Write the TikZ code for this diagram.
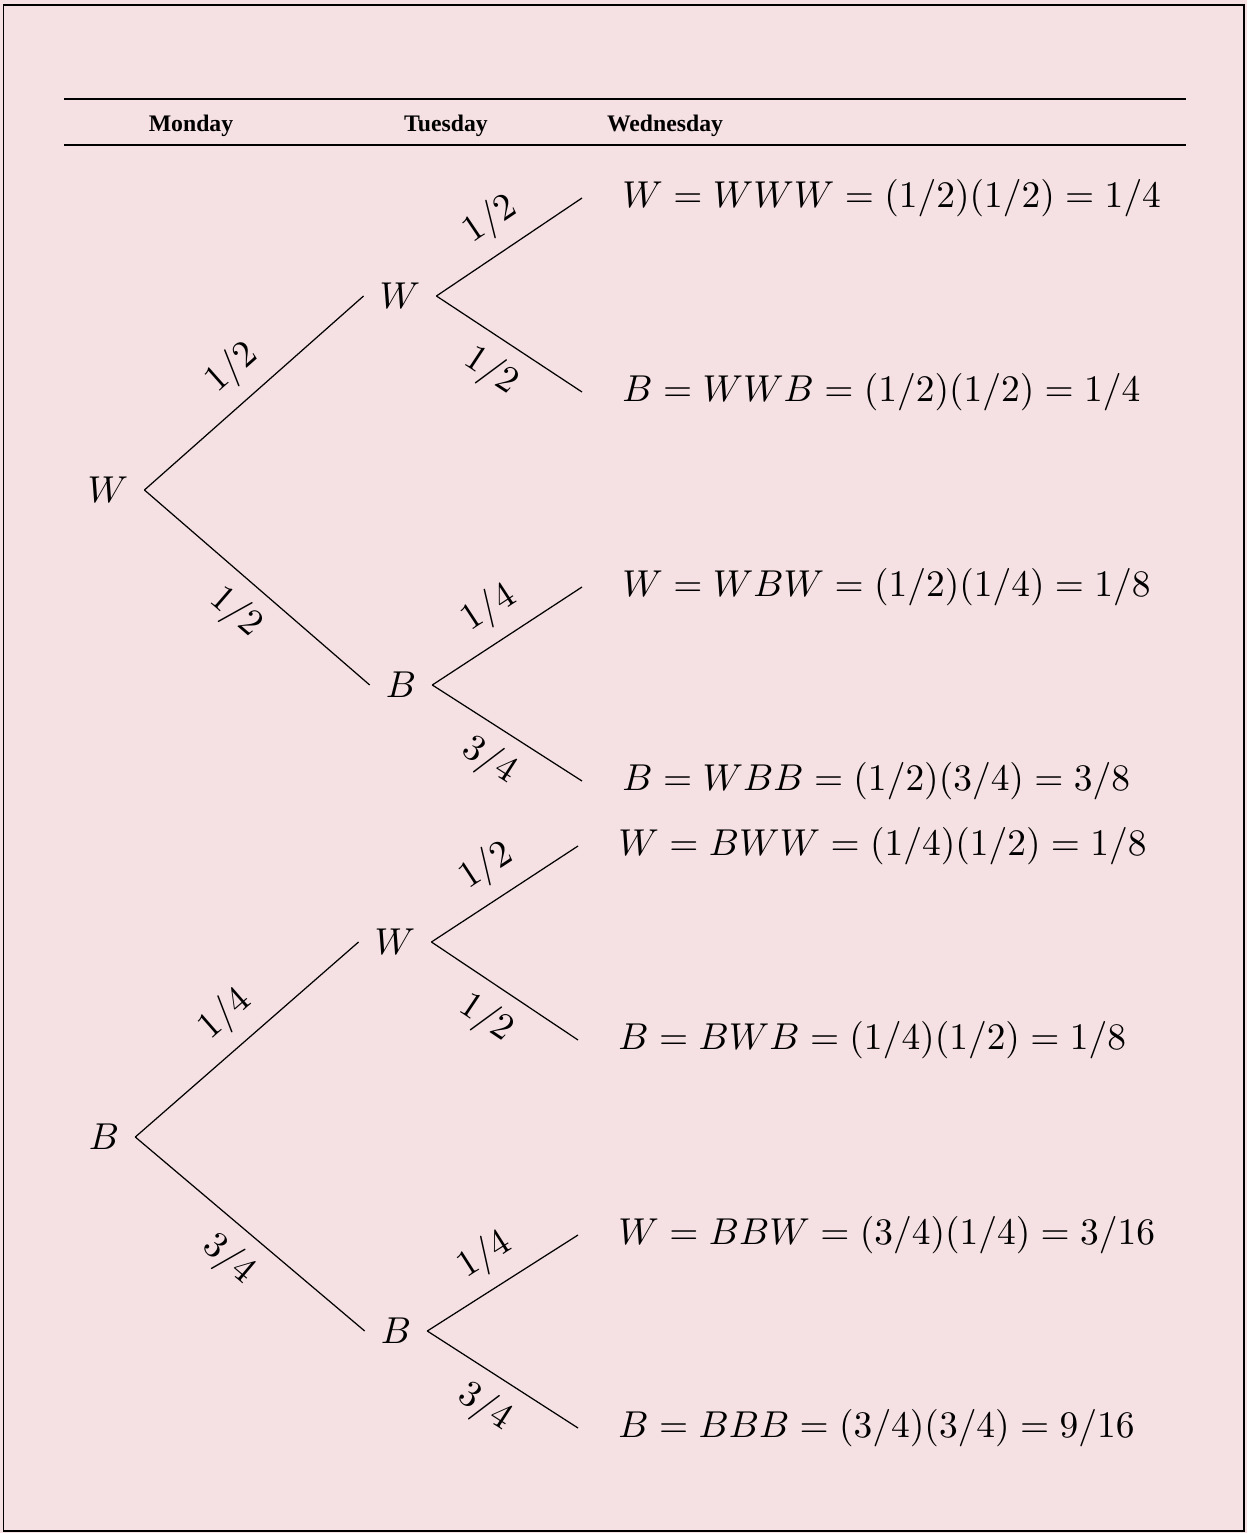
\documentclass[tikz,border=0pt]{standalone}
\usepackage[no-math]{fontspec}
\newfontfamily\headfont{Liberation Serif}
\usetikzlibrary{positioning}
\definecolor{bgpink}{RGB}{245,224,227}
% 10pt の数式を拡大して使う
\newcommand{\mth}[1]{\scalebox{2.13}{$#1$}}

\begin{document}
\begin{tikzpicture}[
      % 分岐点（W / B）のスタイル
      state/.style={inner xsep=9pt, inner ysep=2pt},
      % 末端の結果のスタイル
      leaf/.style={anchor=west, inner xsep=0.8cm, inner ysep=2pt},
      % 枝のスタイル
      branch/.style={draw, line width=0.7pt},
      % 確率ラベル
      prob/.style={sloped, inner sep=3.3pt},
      % 見出し
      head/.style={font=\headfont\bfseries\fontsize{13.5}{16}\selectfont}
    ]

    % --- 背景と枠 ---
    \useasboundingbox (0,0) rectangle (24.94,-30.66);
    \fill [bgpink] (0,0) rectangle (24.94,-30.66);
    \draw [line width=0.9pt] (0.07,-0.1) rectangle (24.88,-30.62);

    % --- 見出し：曜日 ---
    \draw [line width=1.4pt] (1.28,-1.98) -- (23.72,-1.98);
    \draw [line width=1.4pt] (1.28,-2.90) -- (23.72,-2.90);
    \node [head] (mon) at (3.82,-2.52) {Monday};
    \node [head] (tue) at (8.92,-2.52) {Tuesday};
    \node [head] (wed) at (13.30,-2.52) {Wednesday};

    % --- 上側：月曜 W ---
    \node [state] (w) at (2.16,-9.80) {\mth{W}};
    \node [state] (ww) at (8.00,-5.92) {\mth{W}};
    \node [state] (wb) at (8.02,-13.70) {\mth{B}};
    \node [leaf] (www) at (11.64,-3.96) {\mth{W = WWW = (1/2)(1/2) = 1/4}};
    \node [leaf] (wwb) at (11.64,-7.84) {\mth{B = WWB = (1/2)(1/2) = 1/4}};
    \node [leaf] (wbw) at (11.64,-11.74) {\mth{W = WBW = (1/2)(1/4) = 1/8}};
    \node [leaf] (wbb) at (11.64,-15.62) {\mth{B = WBB = (1/2)(3/4) = 3/8}};

    \draw [branch] (w.east) -- node[prob, above=4.5pt] {\mth{1/2}} (ww.west);
    \draw [branch] (w.east) -- node[prob, below=4.5pt] {\mth{1/2}} (wb.west);
    \draw [branch] (ww.east) -- node[prob, above=4.5pt] {\mth{1/2}} (www.west);
    \draw [branch] (ww.east) -- node[prob, below=4.5pt] {\mth{1/2}} (wwb.west);
    \draw [branch] (wb.east) -- node[prob, above=4.5pt] {\mth{1/4}} (wbw.west);
    \draw [branch] (wb.east) -- node[prob, below=4.5pt] {\mth{3/4}} (wbb.west);

    % --- 下側：月曜 B ---
    \node [state] (b) at (2.08,-22.74) {\mth{B}};
    \node [state] (bw) at (7.90,-18.84) {\mth{W}};
    \node [state] (bb) at (7.92,-26.62) {\mth{B}};
    \node [leaf] (bww) at (11.56,-16.92) {\mth{W = BWW = (1/4)(1/2) = 1/8}};
    \node [leaf] (bwb) at (11.56,-20.80) {\mth{B = BWB = (1/4)(1/2) = 1/8}};
    \node [leaf] (bbw) at (11.56,-24.70) {\mth{W = BBW = (3/4)(1/4) = 3/16}};
    \node [leaf] (bbb) at (11.56,-28.56) {\mth{B = BBB = (3/4)(3/4) = 9/16}};

    \draw [branch] (b.east) -- node[prob, above=4.5pt] {\mth{1/4}} (bw.west);
    \draw [branch] (b.east) -- node[prob, below=4.5pt] {\mth{3/4}} (bb.west);
    \draw [branch] (bw.east) -- node[prob, above=4.5pt] {\mth{1/2}} (bww.west);
    \draw [branch] (bw.east) -- node[prob, below=4.5pt] {\mth{1/2}} (bwb.west);
    \draw [branch] (bb.east) -- node[prob, above=4.5pt] {\mth{1/4}} (bbw.west);
    \draw [branch] (bb.east) -- node[prob, below=4.5pt] {\mth{3/4}} (bbb.west);

    \end{tikzpicture}
\end{document}
